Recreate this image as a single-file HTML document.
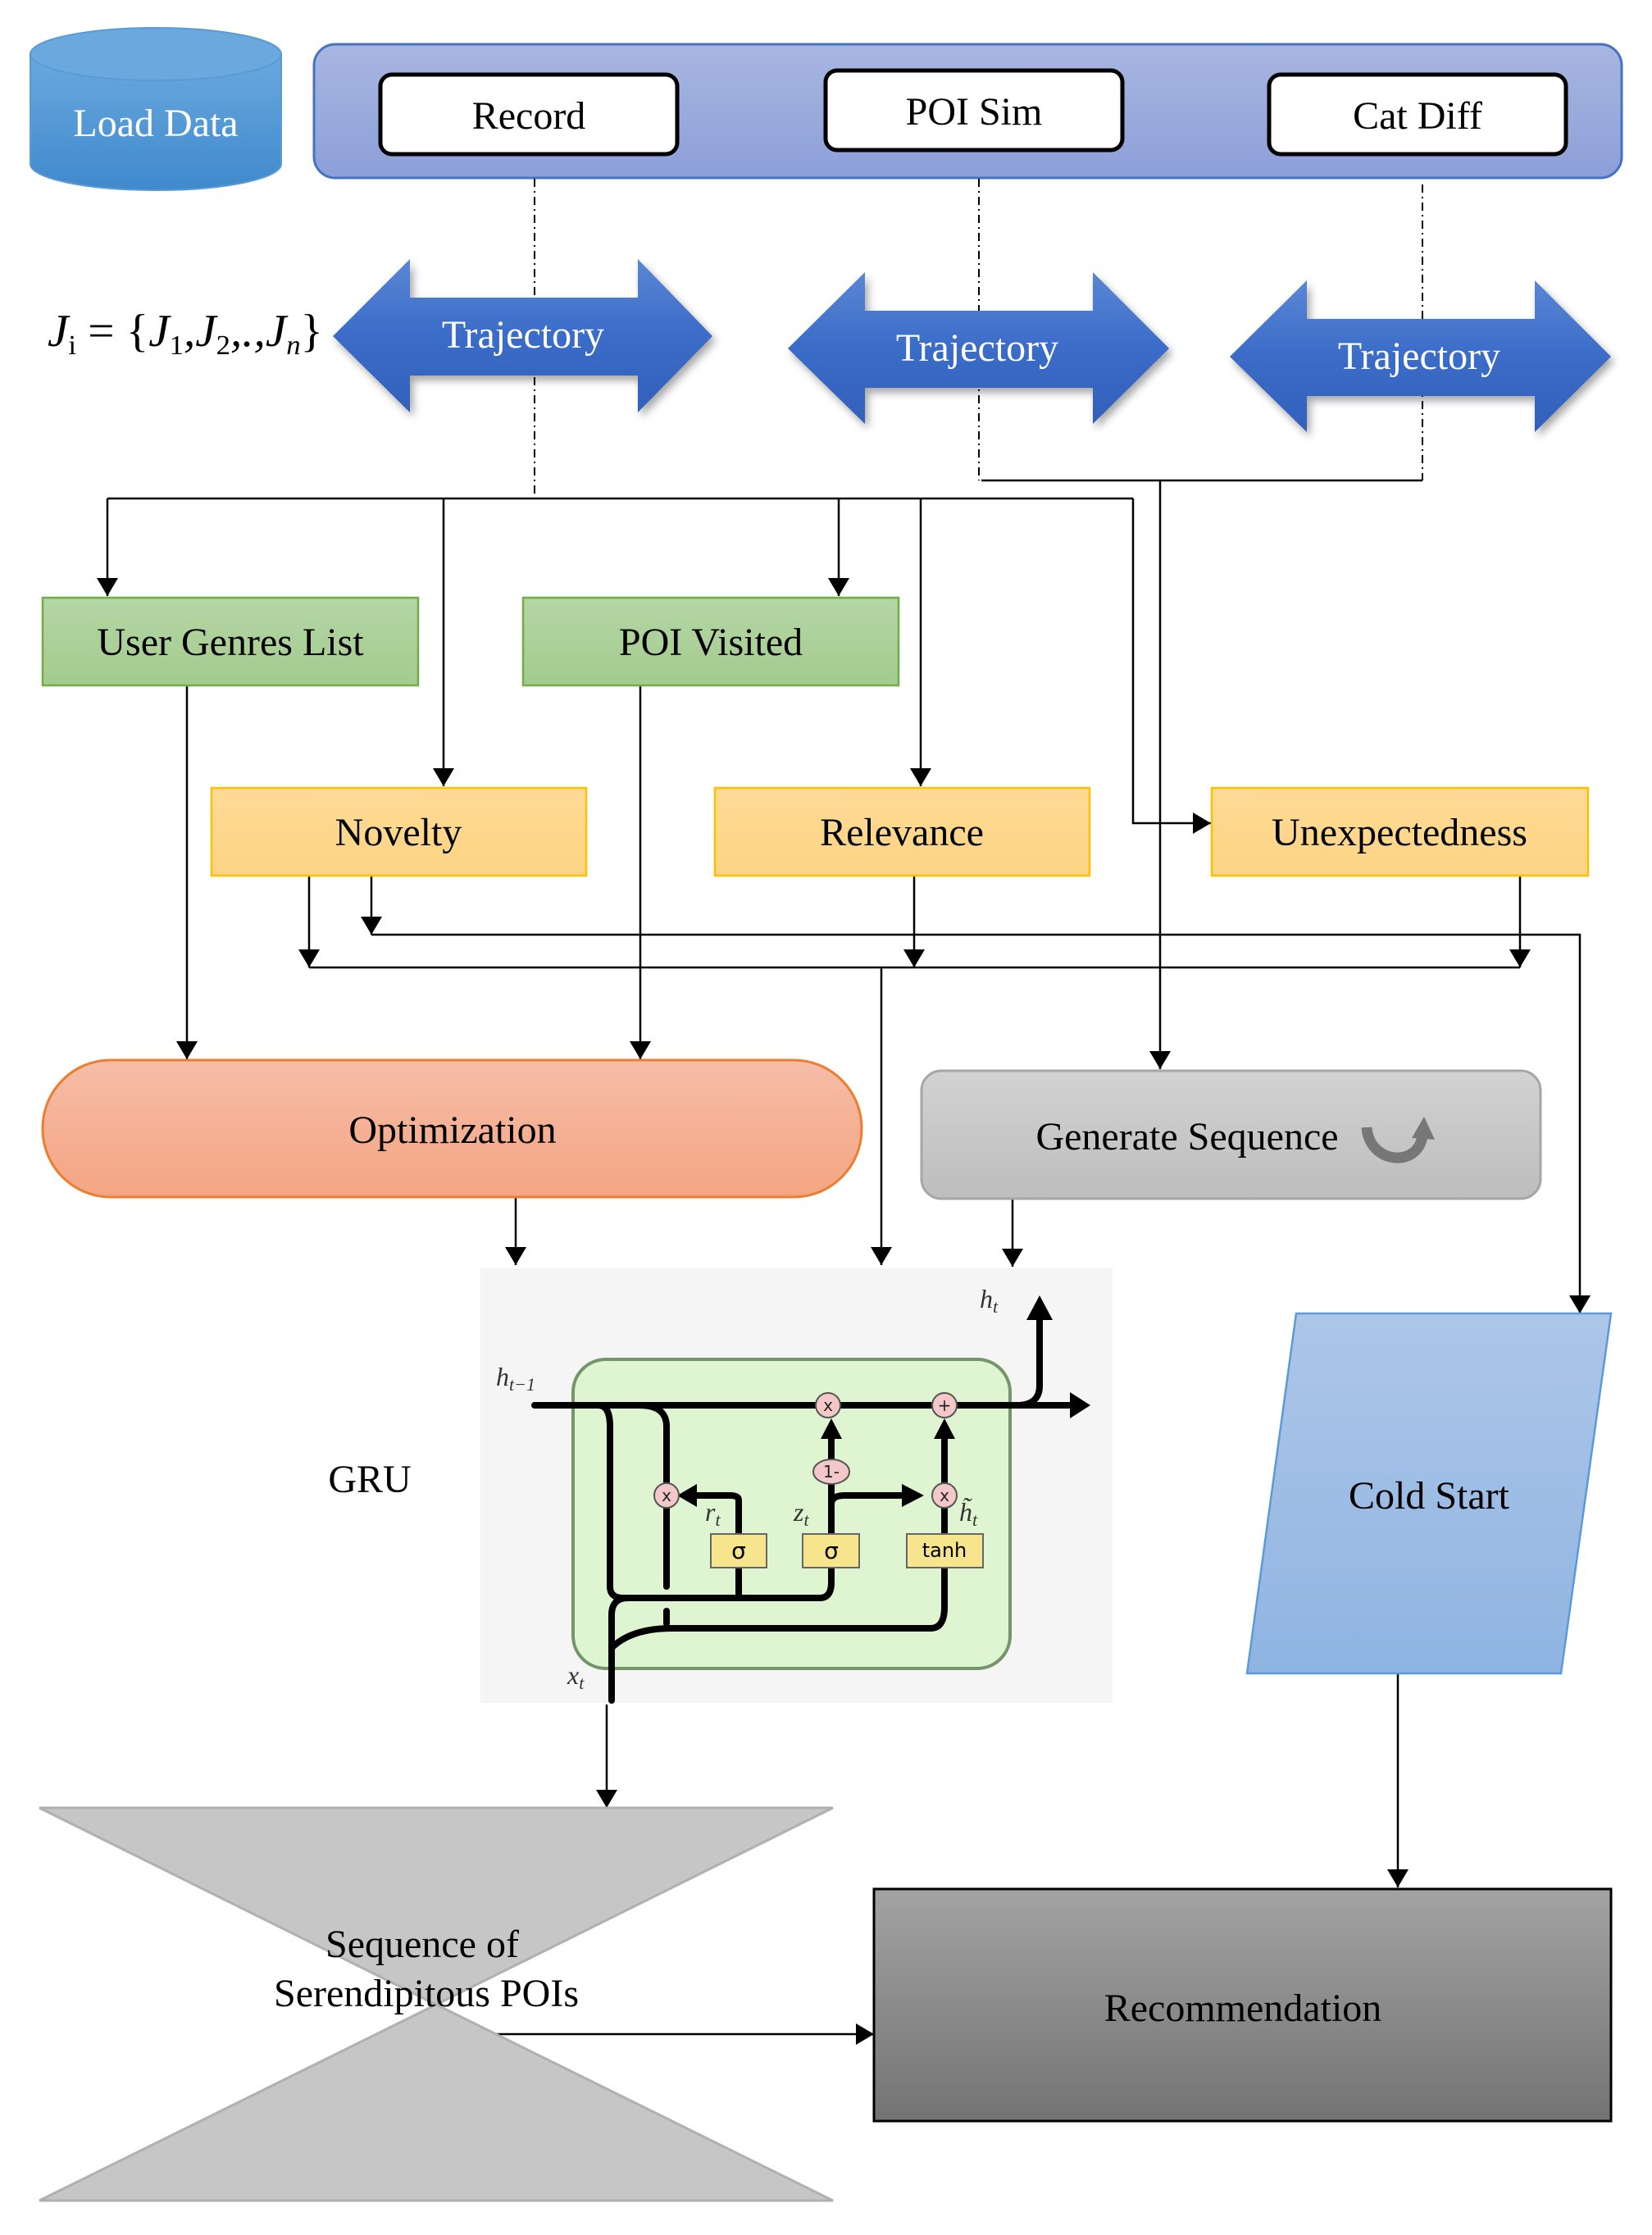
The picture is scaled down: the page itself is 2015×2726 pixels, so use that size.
<!DOCTYPE html>
<html><head><meta charset="utf-8"><style>
html,body{margin:0;padding:0;background:#fff;}
svg{display:block;}
text{font-family:"Liberation Serif",serif;}
</style></head><body>
<svg width="2015" height="2726" viewBox="0 0 2015 2726" xmlns="http://www.w3.org/2000/svg">
<defs>
<linearGradient id="cyl" x1="0" y1="0" x2="0" y2="1"><stop offset="0" stop-color="#6aa8de"/><stop offset="1" stop-color="#3f8acd"/></linearGradient>
<linearGradient id="ban" x1="0" y1="0" x2="0" y2="1"><stop offset="0" stop-color="#a8b6e0"/><stop offset="1" stop-color="#8c9fd8"/></linearGradient>
<linearGradient id="traj" x1="0" y1="0" x2="0" y2="1"><stop offset="0" stop-color="#5a86d4"/><stop offset="0.5" stop-color="#3a6cc8"/><stop offset="1" stop-color="#3260bb"/></linearGradient>
<linearGradient id="grn" x1="0" y1="0" x2="0" y2="1"><stop offset="0" stop-color="#b5d6a5"/><stop offset="1" stop-color="#a3cb8e"/></linearGradient>
<linearGradient id="yel" x1="0" y1="0" x2="0" y2="1"><stop offset="0" stop-color="#fdda96"/><stop offset="1" stop-color="#fdd484"/></linearGradient>
<linearGradient id="opt" x1="0" y1="0" x2="0" y2="1"><stop offset="0" stop-color="#f6bda7"/><stop offset="1" stop-color="#f4a583"/></linearGradient>
<linearGradient id="gen" x1="0" y1="0" x2="0" y2="1"><stop offset="0" stop-color="#d2d2d2"/><stop offset="1" stop-color="#bdbdbd"/></linearGradient>
<linearGradient id="cold" x1="0" y1="0" x2="0" y2="1"><stop offset="0" stop-color="#adc6e8"/><stop offset="1" stop-color="#8fb4e2"/></linearGradient>
<linearGradient id="rec" x1="0" y1="0" x2="0" y2="1"><stop offset="0" stop-color="#a3a3a3"/><stop offset="1" stop-color="#737373"/></linearGradient>
<marker id="ab" markerWidth="22" markerHeight="26" refX="22" refY="13" orient="auto" markerUnits="userSpaceOnUse"><path d="M0,0 L22,13 L0,26z" fill="#000"/></marker>
</defs>

<path d="M37,66 L37,200 A153,32 0 0 0 343,200 L343,66 z" fill="url(#cyl)" stroke="#5b9bd5" stroke-width="2"/>
<ellipse cx="190" cy="66" rx="153" ry="32" fill="#6aa8de" stroke="#5b9bd5" stroke-width="2"/>
<text x="190" y="166" font-size="48" fill="#fff" text-anchor="middle">Load Data</text>

<rect x="383" y="54" width="1595" height="163" rx="26" fill="url(#ban)" stroke="#4472c4" stroke-width="3"/>
<rect x="464" y="91" width="362" height="97" rx="14" fill="#fff" stroke="#000" stroke-width="5"/>
<text x="645" y="157" font-size="48" text-anchor="middle">Record</text>
<rect x="1007" y="86" width="362" height="97" rx="14" fill="#fff" stroke="#000" stroke-width="5"/>
<text x="1188" y="152" font-size="48" text-anchor="middle">POI Sim</text>
<rect x="1548" y="91" width="362" height="97" rx="14" fill="#fff" stroke="#000" stroke-width="5"/>
<text x="1729" y="157" font-size="48" text-anchor="middle">Cat Diff</text>

<g stroke="#000" stroke-width="2" stroke-dasharray="10,5,2,5" fill="none">
<path d="M652,218 V608"/>
<path d="M1194,218 V586"/>
<path d="M1735,225 V586"/>
</g>
<path d="M1197,586 H1735" stroke="#000" stroke-width="2.5" fill="none"/>

<g fill="url(#traj)" style="filter:drop-shadow(4px 6px 5px rgba(0,0,0,0.35))">
<path d="M406,410 L500,316 L500,363 L778,363 L778,316 L869,410 L778,503 L778,458 L500,458 L500,503 z"/>
<path d="M961,425 L1055,332 L1055,379 L1333,379 L1333,332 L1426,425 L1333,517 L1333,473 L1055,473 L1055,517 z"/>
<path d="M1500,435 L1594,342 L1594,389 L1872,389 L1872,342 L1965,435 L1872,527 L1872,483 L1594,483 L1594,527 z"/>
</g>
<text x="638" y="424" font-size="48" fill="#fff" text-anchor="middle">Trajectory</text>
<text x="1192" y="440" font-size="48" fill="#fff" text-anchor="middle">Trajectory</text>
<text x="1731" y="450" font-size="48" fill="#fff" text-anchor="middle">Trajectory</text>
<text x="58" y="422" font-size="56" font-style="italic" textLength="336" lengthAdjust="spacingAndGlyphs">J<tspan font-size="34" font-style="normal" dy="10">i</tspan><tspan dy="-10" font-style="normal"> = {</tspan>J<tspan font-size="34" font-style="normal" dy="10">1</tspan><tspan dy="-10">,J</tspan><tspan font-size="34" font-style="normal" dy="10">2</tspan><tspan dy="-10">,.,J</tspan><tspan font-size="34" dy="10">n</tspan><tspan dy="-10" font-style="normal">}</tspan></text>

<g stroke="#000" stroke-width="2.5" fill="none">
<path d="M131,608 H1382"/>
<path d="M131,608 V727" marker-end="url(#ab)"/>
<path d="M541,608 V959" marker-end="url(#ab)"/>
<path d="M1023,608 V727" marker-end="url(#ab)"/>
<path d="M1123,608 V959" marker-end="url(#ab)"/>
<path d="M1382,608 V1004 H1477" marker-end="url(#ab)"/>
<path d="M1415,586 V1304" marker-end="url(#ab)"/>
<path d="M228,836 V1292" marker-end="url(#ab)"/>
<path d="M781,836 V1292" marker-end="url(#ab)"/>
<path d="M377,1068 V1180" marker-end="url(#ab)"/>
<path d="M453,1068 V1140" marker-end="url(#ab)"/>
<path d="M453,1140 H1927 V1602" marker-end="url(#ab)"/>
<path d="M377,1180 H1854"/>
<path d="M1115,1068 V1180" marker-end="url(#ab)"/>
<path d="M1854,1068 V1180" marker-end="url(#ab)"/>
<path d="M1075,1180 V1543" marker-end="url(#ab)"/>
<path d="M629,1460 V1543" marker-end="url(#ab)"/>
<path d="M1235,1462 V1545" marker-end="url(#ab)"/>
<path d="M740,2079 V2205" marker-end="url(#ab)"/>
<path d="M1705,2041 V2302" marker-end="url(#ab)"/>
<path d="M605,2481 H1066" marker-end="url(#ab)"/>
</g>

<rect x="52" y="729" width="458" height="107" fill="url(#grn)" stroke="#70ad47" stroke-width="2.5"/>
<text x="281" y="799" font-size="48" text-anchor="middle">User Genres List</text>
<rect x="638" y="729" width="458" height="107" fill="url(#grn)" stroke="#70ad47" stroke-width="2.5"/>
<text x="867" y="799" font-size="48" text-anchor="middle">POI Visited</text>

<rect x="258" y="961" width="457" height="107" fill="url(#yel)" stroke="#ffc000" stroke-width="2.5"/>
<text x="486" y="1031" font-size="48" text-anchor="middle">Novelty</text>
<rect x="872" y="961" width="457" height="107" fill="url(#yel)" stroke="#ffc000" stroke-width="2.5"/>
<text x="1100" y="1031" font-size="48" text-anchor="middle">Relevance</text>
<rect x="1478" y="961" width="459" height="107" fill="url(#yel)" stroke="#ffc000" stroke-width="2.5"/>
<text x="1707" y="1031" font-size="48" text-anchor="middle">Unexpectedness</text>

<rect x="52" y="1293" width="999" height="167" rx="83" fill="url(#opt)" stroke="#ed7d31" stroke-width="3"/>
<text x="552" y="1394" font-size="48" text-anchor="middle">Optimization</text>

<rect x="1124" y="1306" width="755" height="156" rx="24" fill="url(#gen)" stroke="#a6a6a6" stroke-width="3"/>
<text x="1448" y="1402" font-size="48" text-anchor="middle">Generate Sequence</text>
<path d="M1667,1375 C1670,1420 1730,1425 1735,1385" stroke="#777" stroke-width="13" fill="none"/>
<path d="M1722,1388 L1737,1362 L1750,1390 z" fill="#777"/>

<rect x="586" y="1547" width="771" height="530" fill="#f5f5f5"/>
<rect x="699" y="1658" width="533" height="377" rx="40" fill="#dff5d2" stroke="#74946a" stroke-width="4"/>
<g stroke="#000" stroke-width="8" fill="none" stroke-linecap="round">
<path d="M652,1714 H1305"/>
<path d="M1240,1714 Q1268,1714 1268,1690 V1605"/>
<path d="M730,1714 Q744,1714 744,1740 V1935 Q744,1949 760,1949 H1000 Q1014,1949 1014,1930 V1912"/>
<path d="M901,1949 V1912"/>
<path d="M901,1871 V1830 Q901,1824 890,1824 H840"/>
<path d="M780,1714 Q813,1714 813,1740 V1935"/>
<path d="M813,1980 V1965"/>
<path d="M746,2074 V1970 Q746,1949 766,1949"/>
<path d="M746,2010 Q770,1986 820,1986 H1135 Q1152,1986 1152,1960 V1912"/>
<path d="M1014,1871 V1740"/>
<path d="M1014,1835 Q1014,1824 1030,1824 H1105"/>
<path d="M1152,1871 V1742"/>
</g>
<g fill="#000">
<path d="M1305,1698 L1330,1714 L1305,1730 z"/>
<path d="M1252,1610 L1268,1580 L1284,1610 z"/>
<path d="M1001,1755 L1014,1730 L1027,1755 z"/>
<path d="M1139,1755 L1152,1730 L1165,1755 z"/>
<path d="M850,1810 L826,1824 L850,1838 z"/>
<path d="M1100,1810 L1127,1824 L1100,1838 z"/>
</g>
<g fill="#f4c7c9" stroke="#555" stroke-width="2">
<circle cx="1010" cy="1714" r="15"/>
<circle cx="1152" cy="1714" r="15"/>
<circle cx="813" cy="1824" r="15"/>
<circle cx="1152" cy="1824" r="15"/>
<ellipse cx="1014" cy="1795" rx="22" ry="15"/>
</g>
<g font-size="20" text-anchor="middle" fill="#222">
<text x="1010" y="1721" style="font-family:'DejaVu Sans',sans-serif">x</text>
<text x="1152" y="1721" style="font-family:'DejaVu Sans',sans-serif">+</text>
<text x="813" y="1831" style="font-family:'DejaVu Sans',sans-serif">x</text>
<text x="1152" y="1831" style="font-family:'DejaVu Sans',sans-serif">x</text>
<text x="1014" y="1802" style="font-family:'DejaVu Sans',sans-serif">1-</text>
</g>
<g fill="#f6e58d" stroke="#666" stroke-width="2">
<rect x="867" y="1871" width="68" height="41"/>
<rect x="979" y="1871" width="69" height="41"/>
<rect x="1106" y="1871" width="93" height="41"/>
</g>
<text x="901" y="1901" font-size="28" text-anchor="middle" style="font-family:'DejaVu Sans',sans-serif">σ</text>
<text x="1014" y="1901" font-size="28" text-anchor="middle" style="font-family:'DejaVu Sans',sans-serif">σ</text>
<text x="1152" y="1899" font-size="24" text-anchor="middle" style="font-family:'DejaVu Sans',sans-serif">tanh</text>
<g font-style="italic" font-size="32" fill="#333">
<text x="605" y="1690">h<tspan font-size="22" dy="6">t−1</tspan></text>
<text x="1195" y="1595">h<tspan font-size="22" dy="6">t</tspan></text>
<text x="860" y="1855">r<tspan font-size="22" dy="6">t</tspan></text>
<text x="968" y="1855">z<tspan font-size="22" dy="6">t</tspan></text>
<text x="1170" y="1855">h̃<tspan font-size="22" dy="6">t</tspan></text>
<text x="692" y="2054">x<tspan font-size="22" dy="6">t</tspan></text>
</g>
<text x="451" y="1820" font-size="48" text-anchor="middle">GRU</text>

<path d="M1581,1602 L1965,1602 L1904,2041 L1521,2041 z" fill="url(#cold)" stroke="#5b9bd5" stroke-width="2.5"/>
<text x="1743" y="1840" font-size="48" text-anchor="middle">Cold Start</text>

<path d="M48,2205 L1016,2205 L532,2445 L1016,2684 L48,2684 L532,2445 z" fill="#c6c6c6" stroke="#b0b0b0" stroke-width="3"/>
<text x="515" y="2387" font-size="48" text-anchor="middle">Sequence of</text>
<text x="520" y="2447" font-size="48" text-anchor="middle">Serendipitous POIs</text>

<rect x="1066" y="2304" width="899" height="283" fill="url(#rec)" stroke="#000" stroke-width="3"/>
<text x="1516" y="2465" font-size="48" text-anchor="middle">Recommendation</text>
</svg>
</body></html>
